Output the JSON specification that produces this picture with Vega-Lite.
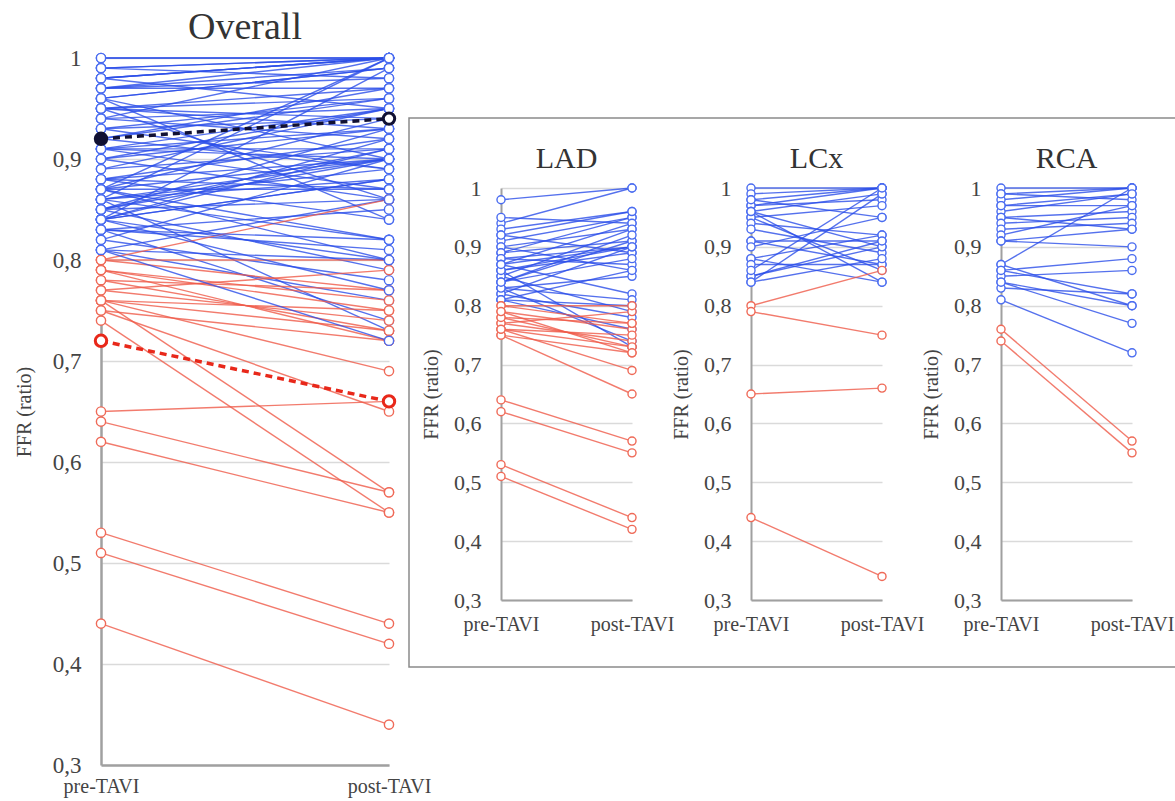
{
  "$schema": "https://vega.github.io/schema/vega-lite/v6.json",
  "background": "white",
  "padding": {"left": 14, "top": 9, "right": 5, "bottom": 5},
  "config": {
    "font": "Liberation Serif",
    "view": {"stroke": null},
    "axis": {"labelFont": "Liberation Serif", "titleFont": "Liberation Serif", "labelColor": "#444", "titleColor": "#444", "titleFontWeight": "normal", "ticks": false, "domainColor": "#a0a0a0", "domainWidth": 2.5, "gridColor": "#dadada", "gridWidth": 1.4},
    "title": {"font": "Liberation Serif", "fontWeight": "normal", "color": "#333"}
  },
  "datasets": {
    "ffr": [
      {"id": "a1", "v": "LAD", "pre-TAVI": 0.98, "post-TAVI": 1.0},
      {"id": "a2", "v": "LAD", "pre-TAVI": 0.94, "post-TAVI": 1.0},
      {"id": "a3", "v": "LAD", "pre-TAVI": 0.95, "post-TAVI": 0.94},
      {"id": "a4", "v": "LAD", "pre-TAVI": 0.93, "post-TAVI": 0.96},
      {"id": "a5", "v": "LAD", "pre-TAVI": 0.92, "post-TAVI": 0.89},
      {"id": "a6", "v": "LAD", "pre-TAVI": 0.91, "post-TAVI": 0.95},
      {"id": "a7", "v": "LAD", "pre-TAVI": 0.90, "post-TAVI": 0.93},
      {"id": "a8", "v": "LAD", "pre-TAVI": 0.90, "post-TAVI": 0.86},
      {"id": "a9", "v": "LAD", "pre-TAVI": 0.89, "post-TAVI": 0.91},
      {"id": "a10", "v": "LAD", "pre-TAVI": 0.89, "post-TAVI": 0.95},
      {"id": "a11", "v": "LAD", "pre-TAVI": 0.88, "post-TAVI": 0.90},
      {"id": "a12", "v": "LAD", "pre-TAVI": 0.88, "post-TAVI": 0.87},
      {"id": "a13", "v": "LAD", "pre-TAVI": 0.87, "post-TAVI": 0.94},
      {"id": "a14", "v": "LAD", "pre-TAVI": 0.87, "post-TAVI": 0.82},
      {"id": "a15", "v": "LAD", "pre-TAVI": 0.86, "post-TAVI": 0.90},
      {"id": "a16", "v": "LAD", "pre-TAVI": 0.86, "post-TAVI": 0.89},
      {"id": "a17", "v": "LAD", "pre-TAVI": 0.85, "post-TAVI": 0.93},
      {"id": "a18", "v": "LAD", "pre-TAVI": 0.85, "post-TAVI": 0.79},
      {"id": "a19", "v": "LAD", "pre-TAVI": 0.84, "post-TAVI": 0.88},
      {"id": "a20", "v": "LAD", "pre-TAVI": 0.84, "post-TAVI": 0.91},
      {"id": "a21", "v": "LAD", "pre-TAVI": 0.83, "post-TAVI": 0.85},
      {"id": "a22", "v": "LAD", "pre-TAVI": 0.83, "post-TAVI": 0.74},
      {"id": "a23", "v": "LAD", "pre-TAVI": 0.82, "post-TAVI": 0.90},
      {"id": "a24", "v": "LAD", "pre-TAVI": 0.82, "post-TAVI": 0.78},
      {"id": "a25", "v": "LAD", "pre-TAVI": 0.81, "post-TAVI": 0.86},
      {"id": "a26", "v": "LAD", "pre-TAVI": 0.81, "post-TAVI": 0.76},
      {"id": "a27", "v": "LAD", "pre-TAVI": 0.83, "post-TAVI": 0.81},
      {"id": "a28", "v": "LAD", "pre-TAVI": 0.86, "post-TAVI": 0.73},
      {"id": "a29", "v": "LAD", "pre-TAVI": 0.81, "post-TAVI": 0.80},
      {"id": "a30", "v": "LAD", "pre-TAVI": 0.87, "post-TAVI": 0.90},
      {"id": "a31", "v": "LAD", "pre-TAVI": 0.92, "post-TAVI": 0.96},
      {"id": "a32", "v": "LAD", "pre-TAVI": 0.84, "post-TAVI": 0.92},
      {"id": "a33", "v": "LAD", "pre-TAVI": 0.51, "post-TAVI": 0.42},
      {"id": "a34", "v": "LAD", "pre-TAVI": 0.53, "post-TAVI": 0.44},
      {"id": "a35", "v": "LAD", "pre-TAVI": 0.62, "post-TAVI": 0.55},
      {"id": "a36", "v": "LAD", "pre-TAVI": 0.64, "post-TAVI": 0.57},
      {"id": "a37", "v": "LAD", "pre-TAVI": 0.75, "post-TAVI": 0.65},
      {"id": "a38", "v": "LAD", "pre-TAVI": 0.76, "post-TAVI": 0.69},
      {"id": "a39", "v": "LAD", "pre-TAVI": 0.75, "post-TAVI": 0.72},
      {"id": "a40", "v": "LAD", "pre-TAVI": 0.76, "post-TAVI": 0.73},
      {"id": "a41", "v": "LAD", "pre-TAVI": 0.77, "post-TAVI": 0.74},
      {"id": "a42", "v": "LAD", "pre-TAVI": 0.78, "post-TAVI": 0.73},
      {"id": "a43", "v": "LAD", "pre-TAVI": 0.79, "post-TAVI": 0.76},
      {"id": "a44", "v": "LAD", "pre-TAVI": 0.80, "post-TAVI": 0.77},
      {"id": "a45", "v": "LAD", "pre-TAVI": 0.77, "post-TAVI": 0.79},
      {"id": "a46", "v": "LAD", "pre-TAVI": 0.76, "post-TAVI": 0.75},
      {"id": "a47", "v": "LAD", "pre-TAVI": 0.78, "post-TAVI": 0.77},
      {"id": "a48", "v": "LAD", "pre-TAVI": 0.80, "post-TAVI": 0.80},
      {"id": "a49", "v": "LAD", "pre-TAVI": 0.79, "post-TAVI": 0.72},
      {"id": "c1", "v": "LCx", "pre-TAVI": 1.0, "post-TAVI": 1.0},
      {"id": "c2", "v": "LCx", "pre-TAVI": 0.99, "post-TAVI": 1.0},
      {"id": "c3", "v": "LCx", "pre-TAVI": 0.98, "post-TAVI": 1.0},
      {"id": "c4", "v": "LCx", "pre-TAVI": 0.97, "post-TAVI": 0.98},
      {"id": "c5", "v": "LCx", "pre-TAVI": 0.97, "post-TAVI": 1.0},
      {"id": "c6", "v": "LCx", "pre-TAVI": 0.96, "post-TAVI": 0.99},
      {"id": "c7", "v": "LCx", "pre-TAVI": 0.96, "post-TAVI": 0.90},
      {"id": "c8", "v": "LCx", "pre-TAVI": 0.95, "post-TAVI": 0.97},
      {"id": "c9", "v": "LCx", "pre-TAVI": 0.95, "post-TAVI": 0.86},
      {"id": "c10", "v": "LCx", "pre-TAVI": 0.94, "post-TAVI": 0.92},
      {"id": "c11", "v": "LCx", "pre-TAVI": 0.93, "post-TAVI": 0.89},
      {"id": "c12", "v": "LCx", "pre-TAVI": 0.91, "post-TAVI": 0.91},
      {"id": "c13", "v": "LCx", "pre-TAVI": 0.91, "post-TAVI": 0.87},
      {"id": "c14", "v": "LCx", "pre-TAVI": 0.90, "post-TAVI": 0.95},
      {"id": "c15", "v": "LCx", "pre-TAVI": 0.88, "post-TAVI": 0.92},
      {"id": "c16", "v": "LCx", "pre-TAVI": 0.88, "post-TAVI": 0.84},
      {"id": "c17", "v": "LCx", "pre-TAVI": 0.87, "post-TAVI": 0.87},
      {"id": "c18", "v": "LCx", "pre-TAVI": 0.85, "post-TAVI": 0.90},
      {"id": "c19", "v": "LCx", "pre-TAVI": 0.85, "post-TAVI": 0.91},
      {"id": "c20", "v": "LCx", "pre-TAVI": 0.84, "post-TAVI": 0.99},
      {"id": "c21", "v": "LCx", "pre-TAVI": 0.84, "post-TAVI": 0.88},
      {"id": "c22", "v": "LCx", "pre-TAVI": 0.86, "post-TAVI": 1.0},
      {"id": "c23", "v": "LCx", "pre-TAVI": 0.96, "post-TAVI": 0.84},
      {"id": "c24", "v": "LCx", "pre-TAVI": 0.98, "post-TAVI": 0.95},
      {"id": "c25", "v": "LCx", "pre-TAVI": 0.80, "post-TAVI": 0.86},
      {"id": "c26", "v": "LCx", "pre-TAVI": 0.79, "post-TAVI": 0.75},
      {"id": "c27", "v": "LCx", "pre-TAVI": 0.65, "post-TAVI": 0.66},
      {"id": "c28", "v": "LCx", "pre-TAVI": 0.44, "post-TAVI": 0.34},
      {"id": "r1", "v": "RCA", "pre-TAVI": 1.0, "post-TAVI": 1.0},
      {"id": "r2", "v": "RCA", "pre-TAVI": 0.99, "post-TAVI": 0.98},
      {"id": "r3", "v": "RCA", "pre-TAVI": 0.98, "post-TAVI": 1.0},
      {"id": "r4", "v": "RCA", "pre-TAVI": 0.97, "post-TAVI": 0.97},
      {"id": "r5", "v": "RCA", "pre-TAVI": 0.96, "post-TAVI": 0.99},
      {"id": "r6", "v": "RCA", "pre-TAVI": 0.95, "post-TAVI": 0.96},
      {"id": "r7", "v": "RCA", "pre-TAVI": 0.95, "post-TAVI": 0.93},
      {"id": "r8", "v": "RCA", "pre-TAVI": 0.94, "post-TAVI": 0.95},
      {"id": "r9", "v": "RCA", "pre-TAVI": 0.93, "post-TAVI": 0.94},
      {"id": "r10", "v": "RCA", "pre-TAVI": 0.92, "post-TAVI": 0.97},
      {"id": "r11", "v": "RCA", "pre-TAVI": 0.91, "post-TAVI": 0.93},
      {"id": "r12", "v": "RCA", "pre-TAVI": 0.91, "post-TAVI": 0.90},
      {"id": "r13", "v": "RCA", "pre-TAVI": 0.87, "post-TAVI": 1.0},
      {"id": "r14", "v": "RCA", "pre-TAVI": 0.87, "post-TAVI": 0.80},
      {"id": "r15", "v": "RCA", "pre-TAVI": 0.86, "post-TAVI": 0.88},
      {"id": "r16", "v": "RCA", "pre-TAVI": 0.85, "post-TAVI": 0.86},
      {"id": "r17", "v": "RCA", "pre-TAVI": 0.84, "post-TAVI": 0.77},
      {"id": "r18", "v": "RCA", "pre-TAVI": 0.83, "post-TAVI": 0.82},
      {"id": "r19", "v": "RCA", "pre-TAVI": 0.81, "post-TAVI": 0.72},
      {"id": "r20", "v": "RCA", "pre-TAVI": 0.86, "post-TAVI": 0.82},
      {"id": "r21", "v": "RCA", "pre-TAVI": 0.84, "post-TAVI": 0.80},
      {"id": "r22", "v": "RCA", "pre-TAVI": 0.99, "post-TAVI": 1.0},
      {"id": "r23", "v": "RCA", "pre-TAVI": 0.97, "post-TAVI": 0.99},
      {"id": "r24", "v": "RCA", "pre-TAVI": 0.76, "post-TAVI": 0.57},
      {"id": "r25", "v": "RCA", "pre-TAVI": 0.74, "post-TAVI": 0.55}
    ],
    "means": [
      {"grp": "normal", "pre-TAVI": 0.92, "post-TAVI": 0.94},
      {"grp": "abnormal", "pre-TAVI": 0.72, "post-TAVI": 0.66}
    ]
  },
  "bounds": "flush",
  "spacing": 20,
  "hconcat": [
    {
      "width": 288,
      "height": 707,
      "title": {"text": "Overall", "fontSize": 38, "offset": 0},
      "encoding": {
        "x": {"field": "time", "type": "nominal", "sort": ["pre-TAVI", "post-TAVI"], "scale": {"padding": 0}, "axis": {"title": null, "labelAngle": 0, "labelFontSize": 20, "labelPadding": 11, "grid": false}},
        "y": {"field": "ffr", "type": "quantitative", "scale": {"domain": [0.3, 1], "nice": false, "zero": false}, "axis": {"values": [0.3, 0.4, 0.5, 0.6, 0.7, 0.8, 0.9, 1], "labelExpr": "datum.value == 1 ? '1' : replace(format(datum.value, '.1f'), '.', ',')", "title": "FFR (ratio)", "labelFontSize": 23, "labelPadding": 20, "titleFontSize": 20, "titlePadding": 18, "grid": true}}
      },
      "layer": [
        {
          "data": {"name": "ffr"},
          "transform": [{"fold": ["pre-TAVI", "post-TAVI"], "as": ["time", "ffr"]}],
          "layer": [
            {"mark": {"type": "line", "strokeWidth": 1.4, "opacity": 0.8}, "encoding": {"detail": {"field": "id"}, "color": {"condition": {"test": "datum['pre-TAVI'] > 0.8", "value": "#2a4ee8"}, "value": "#ef5a48"}}},
            {"mark": {"type": "point", "shape": "circle", "filled": false, "fill": "white", "fillOpacity": 1, "size": 85, "strokeWidth": 1.4, "opacity": 1}, "encoding": {"stroke": {"condition": {"test": "datum['pre-TAVI'] > 0.8", "value": "#4a6cf0"}, "value": "#ef6a58"}}}
          ]
        },
        {
          "data": {"name": "means"},
          "transform": [{"fold": ["pre-TAVI", "post-TAVI"], "as": ["time", "ffr"]}],
          "layer": [
            {"mark": {"type": "line", "strokeWidth": 3.5, "strokeDash": [7, 5]}, "encoding": {"detail": {"field": "grp"}, "color": {"condition": {"test": "datum.grp == 'normal'", "value": "#111133"}, "value": "#e8281a"}}},
            {"mark": {"type": "point", "shape": "circle", "size": 130, "strokeWidth": 3, "opacity": 1}, "encoding": {"stroke": {"condition": {"test": "datum.grp == 'normal'", "value": "#111133"}, "value": "#e8281a"}, "fill": {"condition": {"test": "datum.grp == 'normal' && datum.time == 'pre-TAVI'", "value": "#111133"}, "value": "white"}}}
          ]
        }
      ]
    },
    {
      "bounds": "flush",
      "spacing": 59,
      "vconcat": [
        {"width": 1, "height": 1, "data": {"values": [{}]}, "mark": {"type": "point", "opacity": 0}},
        {
          "bounds": "flush",
          "spacing": 92,
          "hconcat": [
            {
              "bounds": "flush",
              "vconcat": [
                {"width": 780, "height": 549, "view": {"stroke": "#8a8a8a", "strokeWidth": 1.5}, "data": {"values": [{}]}, "mark": {"type": "point", "opacity": 0}}
              ]
            },
            {
              "bounds": "flush",
              "spacing": 69,
              "vconcat": [
                {"width": 1, "height": 1, "data": {"values": [{}]}, "mark": {"type": "point", "opacity": 0}},
                {
                  "bounds": "flush",
                  "spacing": 119,
                  "hconcat": [
                    {
                      "width": 131, "height": 412,
                      "title": {"text": "LAD", "fontSize": 30, "offset": 3},
                      "data": {"name": "ffr"},
                      "transform": [{"filter": "datum.v == 'LAD'"}, {"fold": ["pre-TAVI", "post-TAVI"], "as": ["time", "ffr"]}],
                      "encoding": {
                        "x": {"field": "time", "type": "nominal", "sort": ["pre-TAVI", "post-TAVI"], "scale": {"padding": 0}, "axis": {"title": null, "labelAngle": 0, "labelFontSize": 20, "labelPadding": 14, "grid": false, "domainWidth": 2}},
                        "y": {"field": "ffr", "type": "quantitative", "scale": {"domain": [0.3, 1], "nice": false, "zero": false}, "axis": {"values": [0.3, 0.4, 0.5, 0.6, 0.7, 0.8, 0.9, 1], "labelExpr": "datum.value == 1 ? '1' : replace(format(datum.value, '.1f'), '.', ',')", "title": "FFR (ratio)", "labelFontSize": 22, "labelPadding": 20, "titleFontSize": 20, "titlePadding": 12, "grid": true, "domainWidth": 2}}
                      },
                      "layer": [
                        {"mark": {"type": "line", "strokeWidth": 1.4, "opacity": 0.8}, "encoding": {"detail": {"field": "id"}, "color": {"condition": {"test": "datum['pre-TAVI'] > 0.8", "value": "#2a4ee8"}, "value": "#ef5a48"}}},
                        {"mark": {"type": "point", "shape": "circle", "filled": false, "fill": "white", "fillOpacity": 1, "size": 65, "strokeWidth": 1.4, "opacity": 1}, "encoding": {"stroke": {"condition": {"test": "datum['pre-TAVI'] > 0.8", "value": "#4a6cf0"}, "value": "#ef6a58"}}}
                      ]
                    },
                    {
                      "width": 131, "height": 412,
                      "title": {"text": "LCx", "fontSize": 30, "offset": 3},
                      "data": {"name": "ffr"},
                      "transform": [{"filter": "datum.v == 'LCx'"}, {"fold": ["pre-TAVI", "post-TAVI"], "as": ["time", "ffr"]}],
                      "encoding": {
                        "x": {"field": "time", "type": "nominal", "sort": ["pre-TAVI", "post-TAVI"], "scale": {"padding": 0}, "axis": {"title": null, "labelAngle": 0, "labelFontSize": 20, "labelPadding": 14, "grid": false, "domainWidth": 2}},
                        "y": {"field": "ffr", "type": "quantitative", "scale": {"domain": [0.3, 1], "nice": false, "zero": false}, "axis": {"values": [0.3, 0.4, 0.5, 0.6, 0.7, 0.8, 0.9, 1], "labelExpr": "datum.value == 1 ? '1' : replace(format(datum.value, '.1f'), '.', ',')", "title": "FFR (ratio)", "labelFontSize": 22, "labelPadding": 20, "titleFontSize": 20, "titlePadding": 12, "grid": true, "domainWidth": 2}}
                      },
                      "layer": [
                        {"mark": {"type": "line", "strokeWidth": 1.4, "opacity": 0.8}, "encoding": {"detail": {"field": "id"}, "color": {"condition": {"test": "datum['pre-TAVI'] > 0.8", "value": "#2a4ee8"}, "value": "#ef5a48"}}},
                        {"mark": {"type": "point", "shape": "circle", "filled": false, "fill": "white", "fillOpacity": 1, "size": 65, "strokeWidth": 1.4, "opacity": 1}, "encoding": {"stroke": {"condition": {"test": "datum['pre-TAVI'] > 0.8", "value": "#4a6cf0"}, "value": "#ef6a58"}}}
                      ]
                    },
                    {
                      "width": 131, "height": 412,
                      "title": {"text": "RCA", "fontSize": 30, "offset": 3},
                      "data": {"name": "ffr"},
                      "transform": [{"filter": "datum.v == 'RCA'"}, {"fold": ["pre-TAVI", "post-TAVI"], "as": ["time", "ffr"]}],
                      "encoding": {
                        "x": {"field": "time", "type": "nominal", "sort": ["pre-TAVI", "post-TAVI"], "scale": {"padding": 0}, "axis": {"title": null, "labelAngle": 0, "labelFontSize": 20, "labelPadding": 14, "grid": false, "domainWidth": 2}},
                        "y": {"field": "ffr", "type": "quantitative", "scale": {"domain": [0.3, 1], "nice": false, "zero": false}, "axis": {"values": [0.3, 0.4, 0.5, 0.6, 0.7, 0.8, 0.9, 1], "labelExpr": "datum.value == 1 ? '1' : replace(format(datum.value, '.1f'), '.', ',')", "title": "FFR (ratio)", "labelFontSize": 22, "labelPadding": 20, "titleFontSize": 20, "titlePadding": 12, "grid": true, "domainWidth": 2}}
                      },
                      "layer": [
                        {"mark": {"type": "line", "strokeWidth": 1.4, "opacity": 0.8}, "encoding": {"detail": {"field": "id"}, "color": {"condition": {"test": "datum['pre-TAVI'] > 0.8", "value": "#2a4ee8"}, "value": "#ef5a48"}}},
                        {"mark": {"type": "point", "shape": "circle", "filled": false, "fill": "white", "fillOpacity": 1, "size": 65, "strokeWidth": 1.4, "opacity": 1}, "encoding": {"stroke": {"condition": {"test": "datum['pre-TAVI'] > 0.8", "value": "#4a6cf0"}, "value": "#ef6a58"}}}
                      ]
                    }
                  ]
                }
              ]
            }
          ]
        }
      ]
    }
  ]
}
